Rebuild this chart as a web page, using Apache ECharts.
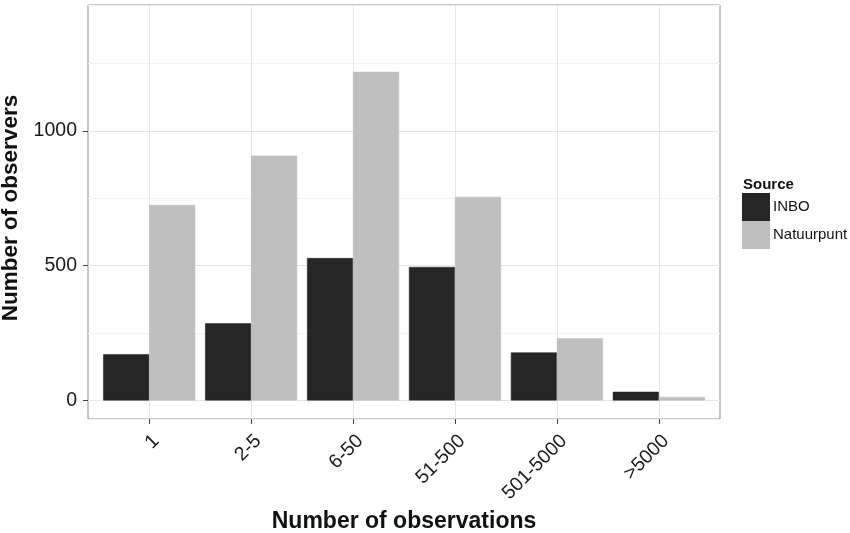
<!DOCTYPE html>
<html>
<head>
<meta charset="utf-8">
<script src="https://cdn.jsdelivr.net/npm/echarts@6/dist/echarts.min.js"></script>
<style>
html,body{margin:0;padding:0;background:#fff;}
#chart{width:850px;height:533px;}
</style>
</head>
<body>
<div id="chart"></div>
<script>
var categories = ['1', '2-5', '6-50', '51-500', '501-5000', '>5000'];
var inbo = [171, 286, 528, 495, 178, 32];
var natuurpunt = [725, 908, 1219, 755, 231, 13];
var yTicks = [0, 500, 1000];
var seriesNames = ['INBO', 'Natuurpunt'];

var FONT = '"Liberation Sans", Arial, Helvetica, sans-serif';
var xIdx = categories.map(function (c, i) { return i; });
var Y_MIN = -69, Y_MAX = 1467, MINOR_SHIFT = 250;

function pairs(vals) { return vals.map(function (v, i) { return [i, v]; }); }

var chart = echarts.init(document.getElementById('chart'), null, {renderer: 'canvas'});
chart.setOption({
  animation: false,
  backgroundColor: '#ffffff',
  textStyle: {fontFamily: FONT},
  grid: {
    left: 88, right: 130, top: 5, bottom: 114,
    containLabel: false, outerBoundsMode: 'none',
    show: true, borderColor: '#8c8c8c', borderWidth: 1, backgroundColor: '#ffffff'
  },
  legend: {
    orient: 'vertical', left: 742, top: 193, padding: 0,
    itemWidth: 28, itemHeight: 28, itemGap: 0,
    icon: 'rect',
    itemStyle: {borderWidth: 0},
    data: seriesNames,
    textStyle: {fontFamily: FONT, fontSize: 15, color: '#111', padding: [0, 0, 0, -2]}
  },
  graphic: [{
    type: 'text', left: 743, top: 177,
    style: {text: 'Source', font: 'bold 15px ' + FONT, fill: '#111'}
  }],
  xAxis: {
    type: 'value', min: -0.6, max: 5.6,
    name: 'Number of observations', nameLocation: 'middle', nameGap: 90,
    nameTextStyle: {fontFamily: FONT, fontSize: 23, fontWeight: 'bold', color: '#111'},
    axisLine: {show: false, onZero: false},
    axisTick: {show: true, length: 5, lineStyle: {color: '#444'}, customValues: xIdx},
    axisLabel: {
      customValues: xIdx,
      rotate: 45, margin: 12, fontSize: 19.5, color: '#1a1a1a', fontFamily: FONT,
      verticalAlign: 'top',
      formatter: function (v) { return categories[Math.round(v)] || ''; }
    },
    splitLine: {show: true, lineStyle: {color: '#e6e6e6', width: 1}}
  },
  yAxis: [{
    type: 'value', min: Y_MIN, max: Y_MAX,
    name: 'Number of observers', nameLocation: 'middle', nameGap: 46,
    nameTextStyle: {fontFamily: FONT, fontSize: 22.5, fontWeight: 'bold', color: '#111', padding: [0, 0, 0, 8]},
    axisLine: {show: false, onZero: false},
    axisTick: {show: true, length: 5, lineStyle: {color: '#444'}, customValues: yTicks},
    axisLabel: {customValues: yTicks, margin: 11, fontSize: 19.5, color: '#1a1a1a', fontFamily: FONT,
      formatter: function (v) { return String(v); }},
    splitLine: {show: true, lineStyle: {color: '#e6e6e6', width: 1}}
  }, {
    // helper axis shifted by 250 so its split lines fall on the minor grid (250, 750, 1250)
    type: 'value', min: Y_MIN - MINOR_SHIFT, max: Y_MAX - MINOR_SHIFT, splitNumber: 3,
    position: 'left',
    axisLine: {show: false, onZero: false}, axisTick: {show: false}, axisLabel: {show: false},
    splitLine: {show: true, lineStyle: {color: '#f3f3f3', width: 1}}
  }],
  series: [
    {
      name: 'INBO', type: 'bar', data: pairs(inbo), barWidth: 46, barGap: '0%', z: 3,
      itemStyle: {color: '#262626', borderColor: '#1f1f1f', borderWidth: 0.5}
    },
    {
      name: 'Natuurpunt', type: 'bar', data: pairs(natuurpunt), barWidth: 46, barGap: '0%', z: 3,
      itemStyle: {color: '#bfbfbf', borderColor: '#b8b8b8', borderWidth: 0.5}
    }
  ]
});
</script>
</body>
</html>
